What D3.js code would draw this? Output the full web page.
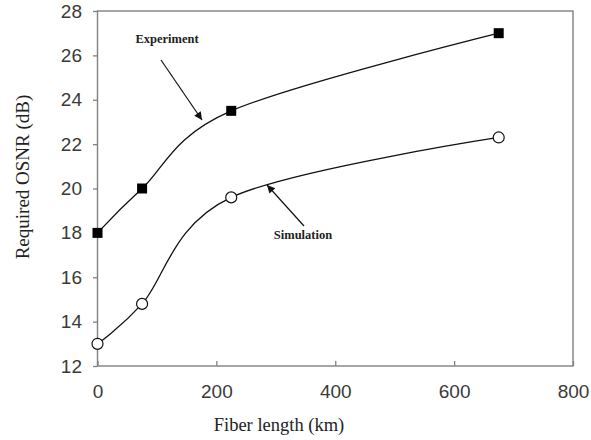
<!DOCTYPE html>
<html>
<head>
<meta charset="utf-8">
<script src="https://cdn.jsdelivr.net/npm/d3@7"></script>
<style>
  html, body { margin: 0; padding: 0; background: #fff; }
  svg { display: block; }
</style>
</head>
<body>
<svg id="chart" width="591" height="440"></svg>
<script>
// Fiber length (km) at each measurement
const fiberLength = [0, 75, 225, 675];
// Required OSNR (dB)
const experimentOSNR = [18, 20, 23.5, 27];
const simulationOSNR = [13, 14.8, 19.6, 22.3];
// Axis ticks
const xTicks = [0, 200, 400, 600, 800];
const yTicks = [12, 14, 16, 18, 20, 22, 24, 26, 28];
// Callout labels
const calloutLabels = ["Experiment", "Simulation"];

const svg = d3.select("#chart");
const plot = { left: 97.5, right: 573, top: 11, bottom: 366 };

const x = d3.scaleLinear().domain([0, 800]).range([plot.left, plot.right]);
const y = d3.scaleLinear().domain([12, 28]).range([plot.bottom, plot.top]);

const frameColor = "#808080";
const tickFont = "'Liberation Sans', Arial, sans-serif";
const serif = "'Liberation Serif', 'Times New Roman', serif";

// Plot frame
svg.append("rect")
  .attr("x", plot.left).attr("y", plot.top)
  .attr("width", plot.right - plot.left).attr("height", plot.bottom - plot.top)
  .attr("fill", "none").attr("stroke", frameColor).attr("stroke-width", 1.4);

// X axis: ticks point inward, labels below
const xAxis = d3.axisBottom(x).tickValues(xTicks).tickSizeInner(-5).tickSizeOuter(0).tickPadding(19);
const gx = svg.append("g").attr("transform", `translate(0,${plot.bottom})`).call(xAxis);
gx.select(".domain").remove();
gx.selectAll(".tick line").attr("stroke", frameColor).attr("stroke-width", 1.3);
gx.selectAll(".tick text")
  .attr("font-family", tickFont).attr("font-size", 19).attr("fill", "#3a3a3a");

// Y axis: ticks point outward
const yAxis = d3.axisLeft(y).tickValues(yTicks).tickSizeInner(4.5).tickSizeOuter(0).tickPadding(11);
const gy = svg.append("g").attr("transform", `translate(${plot.left},0)`).call(yAxis);
gy.select(".domain").remove();
gy.selectAll(".tick line").attr("stroke", frameColor).attr("stroke-width", 1.3);
gy.selectAll(".tick text")
  .attr("font-family", tickFont).attr("font-size", 19).attr("fill", "#3a3a3a");

// Axis titles
svg.append("text")
  .attr("x", 279).attr("y", 431)
  .attr("text-anchor", "middle")
  .attr("font-family", serif).attr("font-size", 18.5).attr("fill", "#222")
  .text("Fiber length (km)");

svg.append("text")
  .attr("transform", "translate(29,177) rotate(-90)")
  .attr("text-anchor", "middle")
  .attr("font-family", serif).attr("font-size", 19).attr("fill", "#222")
  .text("Required OSNR (dB)");

// Smoothed series lines
const line = d3.line()
  .x((d, i) => x(fiberLength[i]))
  .y(d => y(d))
  .curve(d3.curveCardinal.tension(0));

[experimentOSNR, simulationOSNR].forEach(series => {
  svg.append("path")
    .datum(series)
    .attr("d", line)
    .attr("fill", "none")
    .attr("stroke", "#111")
    .attr("stroke-width", 1.3);
});

// Experiment markers: filled squares
const sq = 10;
svg.append("g").selectAll("rect")
  .data(experimentOSNR)
  .join("rect")
  .attr("x", (d, i) => x(fiberLength[i]) - sq / 2)
  .attr("y", d => y(d) - sq / 2)
  .attr("width", sq).attr("height", sq)
  .attr("fill", "#000");

// Simulation markers: open circles
svg.append("g").selectAll("circle")
  .data(simulationOSNR)
  .join("circle")
  .attr("cx", (d, i) => x(fiberLength[i]))
  .attr("cy", d => y(d))
  .attr("r", 5.5)
  .attr("fill", "#fff")
  .attr("stroke", "#111")
  .attr("stroke-width", 1.2);

// Arrowhead marker
svg.append("defs").append("marker")
  .attr("id", "arrow")
  .attr("viewBox", "0 0 10 10")
  .attr("refX", 10).attr("refY", 5)
  .attr("markerUnits", "userSpaceOnUse")
  .attr("markerWidth", 10).attr("markerHeight", 8)
  .attr("orient", "auto")
  .append("path")
  .attr("d", "M0,0 L10,5 L0,10 Z")
  .attr("fill", "#111");

// Callouts: label plus arrow pointing at each curve
const callouts = [
  { label: calloutLabels[0], tx: 167, ty: 43, from: [161, 60], to: [202, 120] },
  { label: calloutLabels[1], tx: 303, ty: 239, from: [304, 226], to: [267, 185] }
];

callouts.forEach(c => {
  svg.append("line")
    .attr("x1", c.from[0]).attr("y1", c.from[1])
    .attr("x2", c.to[0]).attr("y2", c.to[1])
    .attr("stroke", "#111").attr("stroke-width", 1.2)
    .attr("marker-end", "url(#arrow)");
  svg.append("text")
    .attr("x", c.tx).attr("y", c.ty)
    .attr("text-anchor", "middle")
    .attr("font-family", serif).attr("font-size", 12.5)
    .attr("font-weight", "bold").attr("fill", "#222")
    .text(c.label);
});
</script>
</body>
</html>
